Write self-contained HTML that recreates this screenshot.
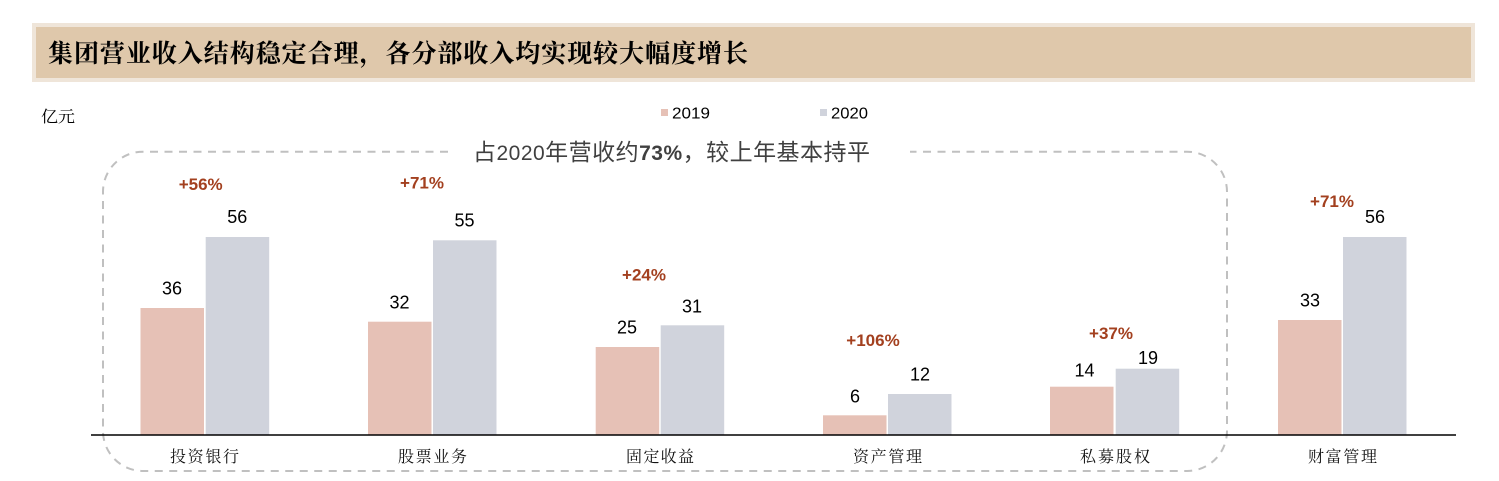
<!DOCTYPE html>
<html><head><meta charset="utf-8"><style>
html,body{margin:0;padding:0;background:#fff;width:1499px;height:481px;overflow:hidden}
svg{display:block}
</style></head><body>
<svg width="1499" height="481" viewBox="0 0 1499 481" xmlns="http://www.w3.org/2000/svg">
<!-- header -->
<rect x="32" y="23" width="1443" height="59" fill="#efe5d9"/>
<rect x="36" y="27" width="1435" height="51" fill="#dfc8ab"/>
<text x="48" y="62" font-family="'Noto Serif CJK SC','Noto Sans CJK SC',serif" font-weight="bold" font-size="25" fill="#000" textLength="700" lengthAdjust="spacing">集团营业收入结构稳定合理，各分部收入均实现较大幅度增长</text>

<text x="41" y="122" font-family="'Noto Serif CJK SC',serif" font-size="16" fill="#000" textLength="34" lengthAdjust="spacingAndGlyphs">亿元</text>

<!-- legend -->
<rect x="661" y="109" width="7" height="7" fill="#e6c1b6"/>
<text x="672" y="118.5" font-family="'Liberation Sans',sans-serif" font-size="16" fill="#000" textLength="38" lengthAdjust="spacingAndGlyphs">2019</text>
<rect x="820" y="109" width="7" height="7" fill="#d0d3dc"/>
<text x="831" y="118.5" font-family="'Liberation Sans',sans-serif" font-size="16" fill="#000" textLength="37" lengthAdjust="spacingAndGlyphs">2020</text>

<!-- dashed box -->
<path d="M448 151.7 H143 A40 40 0 0 0 103 191.7 V431 A40 40 0 0 0 143 471 H1187 A40 40 0 0 0 1227 431 V191.7 A40 40 0 0 0 1187 151.7 H910" fill="none" stroke="#c0c0c0" stroke-width="2" stroke-dasharray="8 6.5"/>

<text x="473" y="160" font-family="'Liberation Sans','Noto Sans CJK SC',sans-serif" font-size="23" fill="#404040" textLength="397" lengthAdjust="spacing">占<tspan font-size="21">2020</tspan>年营收约<tspan font-size="21" font-weight="bold">73%</tspan>，较上年基本持平</text>

<!-- bars -->
<g fill="#e6c1b6">
<rect x="140.5" y="308" width="63.5" height="127"/>
<rect x="368" y="321.7" width="63.5" height="113.3"/>
<rect x="595.7" y="347" width="63.5" height="88"/>
<rect x="823" y="415.3" width="63.5" height="19.7"/>
<rect x="1050" y="386.7" width="63.5" height="48.3"/>
<rect x="1278" y="320" width="63.5" height="115"/>
</g>
<g fill="#d0d3dc">
<rect x="205.7" y="237" width="63.5" height="198"/>
<rect x="433" y="240.3" width="63.5" height="194.7"/>
<rect x="660.7" y="325.3" width="63.5" height="109.7"/>
<rect x="888" y="394" width="63.5" height="41"/>
<rect x="1115.7" y="368.7" width="63.5" height="66.3"/>
<rect x="1343" y="237" width="63.5" height="198"/>
</g>
<line x1="91" y1="435" x2="1456" y2="435" stroke="#000" stroke-width="1.6"/>

<!-- value labels -->
<g font-family="'Liberation Sans',sans-serif" font-size="18" fill="#000" text-anchor="middle">
<text x="172" y="294.4">36</text>
<text x="237.3" y="223">56</text>
<text x="399.5" y="308.5">32</text>
<text x="464.5" y="226.5">55</text>
<text x="627" y="333.5">25</text>
<text x="692" y="312.3">31</text>
<text x="855" y="402.3">6</text>
<text x="920" y="380.6">12</text>
<text x="1084.5" y="376.3">14</text>
<text x="1148" y="364">19</text>
<text x="1310" y="306.3">33</text>
<text x="1375" y="223">56</text>
</g>

<!-- percent labels -->
<g font-family="'Liberation Sans',sans-serif" font-size="17" font-weight="bold" fill="#a3401f" text-anchor="middle">
<text x="200.7" y="190.1">+56%</text>
<text x="422" y="188.4">+71%</text>
<text x="644" y="280.4">+24%</text>
<text x="873" y="346.1">+106%</text>
<text x="1111" y="338.8">+37%</text>
<text x="1332" y="206.8">+71%</text>
</g>

<!-- category labels -->
<g font-family="'Noto Serif CJK SC',serif" font-size="16" fill="#111">
<text x="170" y="462" textLength="69" lengthAdjust="spacing">投资银行</text>
<text x="398" y="462" textLength="69" lengthAdjust="spacing">股票业务</text>
<text x="626" y="462" textLength="68" lengthAdjust="spacing">固定收益</text>
<text x="853" y="462" textLength="69" lengthAdjust="spacing">资产管理</text>
<text x="1080" y="462" textLength="70" lengthAdjust="spacing">私募股权</text>
<text x="1308" y="462" textLength="69" lengthAdjust="spacing">财富管理</text>
</g>
</svg>
</body></html>
